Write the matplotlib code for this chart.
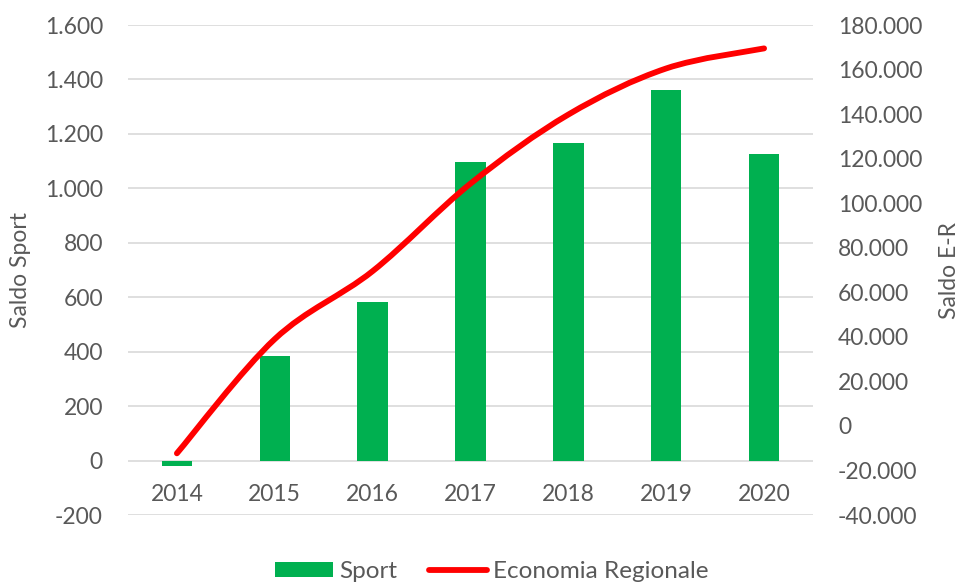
import numpy as np
import matplotlib.pyplot as plt
from matplotlib.path import Path
from matplotlib.patches import PathPatch, Patch
from matplotlib.lines import Line2D
from matplotlib.ticker import FuncFormatter

plt.rcParams['font.family'] = ['Lato', 'DejaVu Sans']

# Dati
anni = ['2014', '2015', '2016', '2017', '2018', '2019', '2020']
saldo_sport = [-20, 385, 583, 1098, 1165, 1360, 1125]
saldo_er = [-12300, 39000, 69500, 108800, 139800, 160500, 169500]

grigio = '#595959'
verde = '#00B050'
rosso = '#FF0000'

fig = plt.figure(figsize=(9.6, 5.83), dpi=100)
ax = fig.add_axes([0.1333, 0.1166, 0.7136, 0.8405])
ax2 = ax.twinx()

x = np.arange(len(anni))

# Barre (asse sinistro)
ax.bar(x, saldo_sport, width=0.31, color=verde, zorder=2)
ax.set_xlim(-0.5, len(anni) - 0.5)
ax.set_ylim(-200, 1600)
ax.set_yticks(np.arange(-200, 1601, 200))
ax.grid(axis='y', color='#D9D9D9', linewidth=1.2, zorder=0)
ax.set_axisbelow(True)
ax.set_xticks([])

# Etichette degli anni sotto lo zero
for xi, anno in zip(x, anni):
    ax.text(xi, -125, anno, ha='center', va='center', fontsize=16.5, color=grigio)

# Linea smussata (asse destro), curva di Bezier come in Excel
pts = np.column_stack([x, saldo_er]).astype(float)
ext = np.vstack([pts[0], pts, pts[-1]])
verts = [pts[0]]
codes = [Path.MOVETO]
for i in range(len(pts) - 1):
    p0, p1, p2, p3 = ext[i], ext[i + 1], ext[i + 2], ext[i + 3]
    c1 = p1 + (p2 - p0) / 6
    c2 = p2 - (p3 - p1) / 6
    verts += [c1, c2, p2]
    codes += [Path.CURVE4] * 3
ax2.add_patch(PathPatch(Path(verts, codes), facecolor='none', edgecolor=rosso,
                        linewidth=4.2, capstyle='round', zorder=3))
ax2.set_ylim(-40000, 180000)
ax2.set_yticks(np.arange(-40000, 180001, 20000))

fmt = FuncFormatter(lambda v, p: f'{int(v):,}'.replace(',', '.'))
ax.yaxis.set_major_formatter(fmt)
ax2.yaxis.set_major_formatter(fmt)

for a in (ax, ax2):
    for s in a.spines.values():
        s.set_visible(False)
    a.tick_params(axis='y', length=0, labelsize=16.5, labelcolor=grigio, pad=18)

ax.set_ylabel('Saldo Sport', fontsize=16.5, color=grigio, labelpad=10)
ax2.set_ylabel('Saldo E-R', fontsize=16.5, color=grigio, rotation=90, labelpad=12)

# Legenda
handles = [Patch(facecolor=verde, edgecolor='none'),
           Line2D([], [], color=rosso, linewidth=4.2, solid_capstyle='round')]
fig.legend(handles, ['Sport', 'Economia Regionale'], loc='lower center',
           bbox_to_anchor=(0.512, -0.036), ncol=2, frameon=False, fontsize=17.5,
           labelcolor=grigio, handlelength=2.4, handleheight=0.55,
           handletextpad=0.25, columnspacing=1.3)

fig.savefig('out.png', dpi=100)
